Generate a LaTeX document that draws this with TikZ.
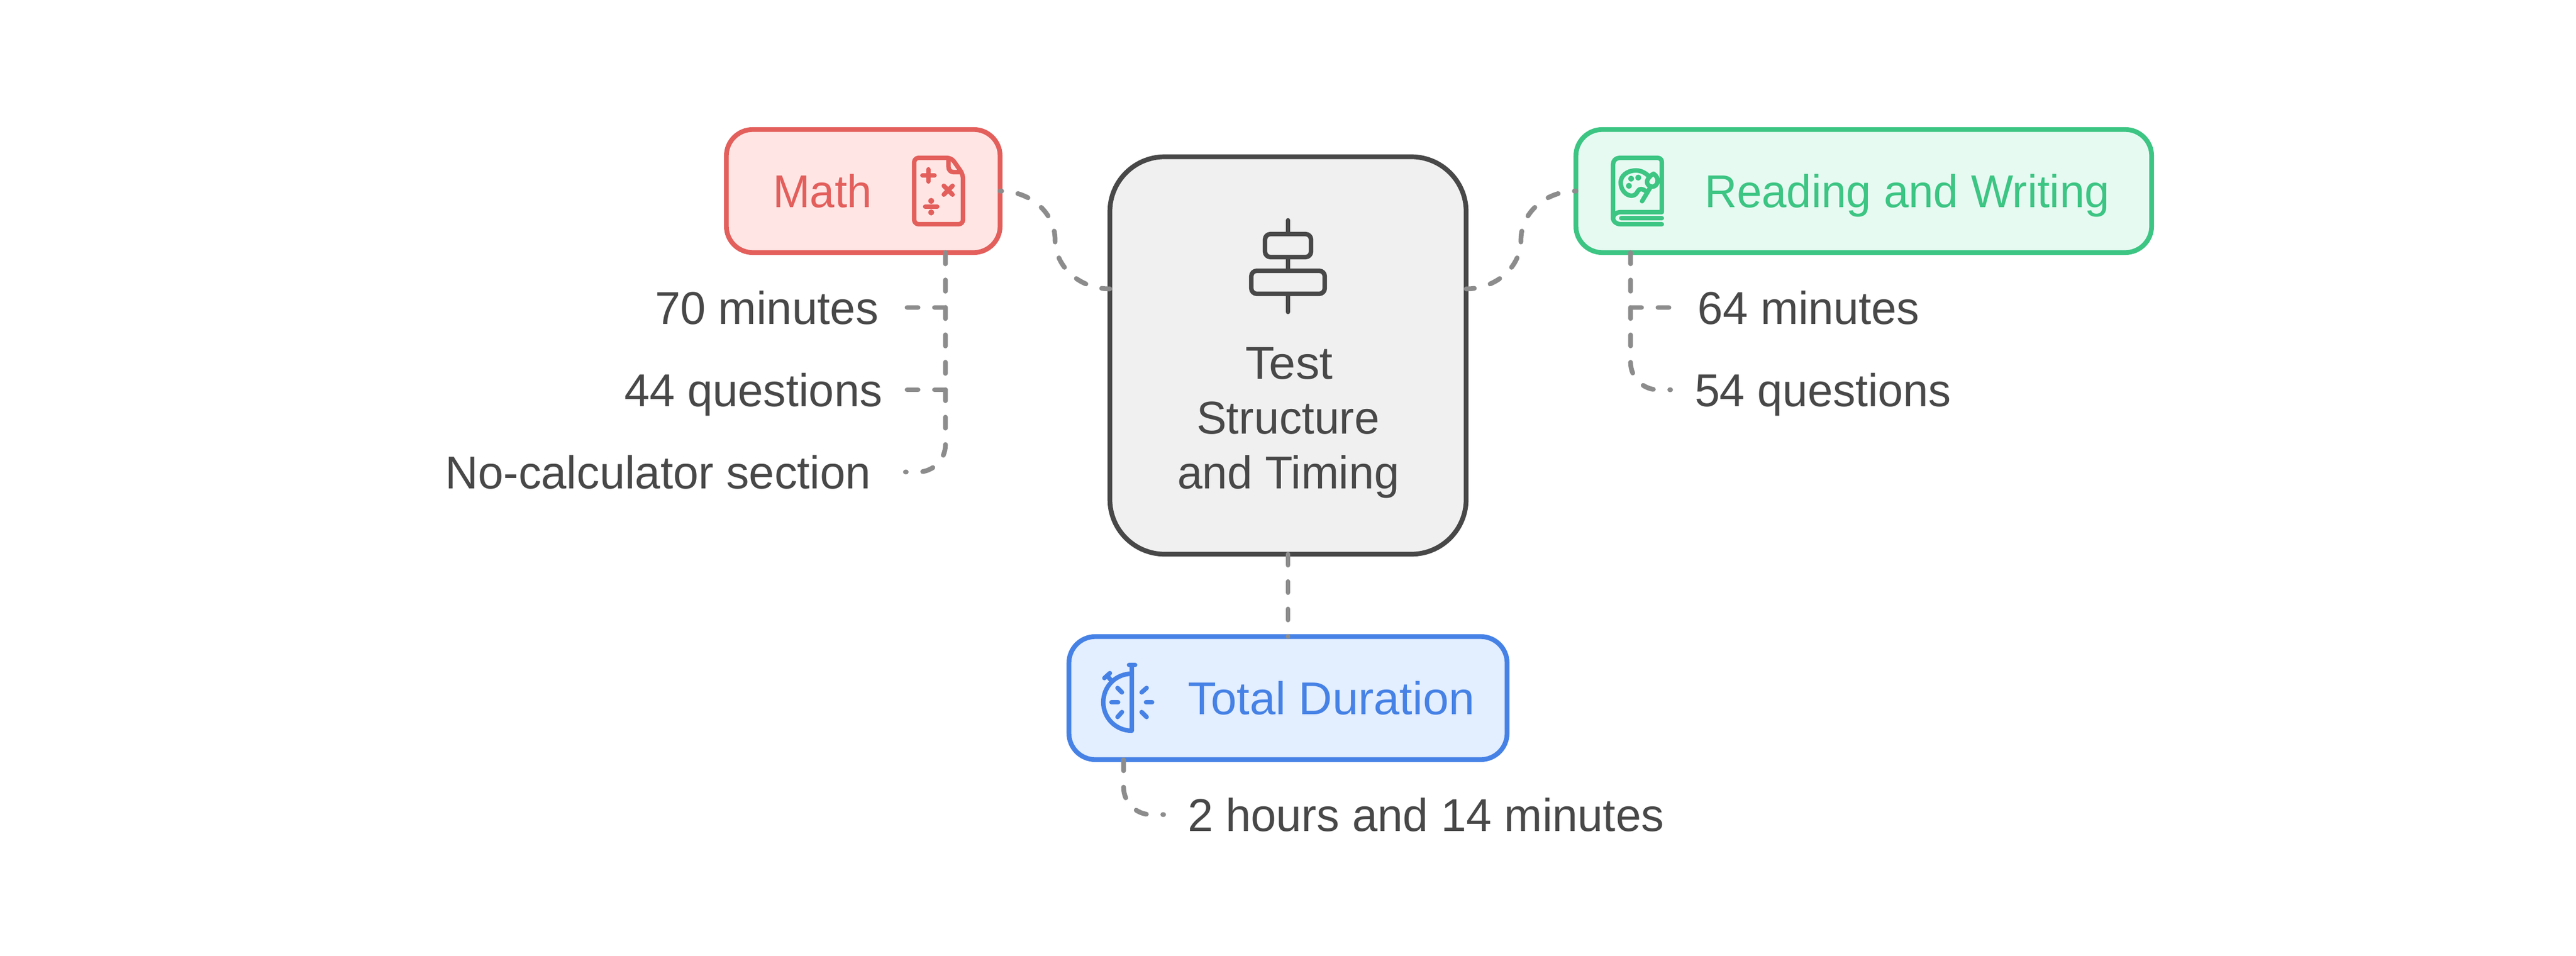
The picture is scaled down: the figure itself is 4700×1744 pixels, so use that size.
\documentclass[tikz,border=0pt]{standalone}
\usepackage{graphicx}
\usepackage{fontspec}
\setmainfont{Liberation Sans}
\definecolor{ink}{HTML}{484848}
\definecolor{conn}{HTML}{8C8C8C}
\definecolor{redS}{HTML}{E35F5C}
\definecolor{redF}{HTML}{FFE6E5}
\definecolor{greenS}{HTML}{3CC583}
\definecolor{greenF}{HTML}{E7FAF2}
\definecolor{blueS}{HTML}{4682E6}
\definecolor{blueF}{HTML}{E3EEFE}
\definecolor{greyF}{HTML}{F0F0F0}
\newcommand\fitw[2]{\resizebox{#1pt}{\height}{#2}}
\tikzset{
  box/.style={rectangle,rounded corners=24pt,line width=4.35pt,outer sep=0pt,inner sep=0pt,minimum height=112.2pt},
  midbox/.style={rectangle,rounded corners=50pt,line width=4.35pt,outer sep=0pt,inner sep=0pt,draw=ink,fill=greyF},
  lbl/.style={anchor=base west,inner sep=0pt,outer sep=0pt,font=\fontsize{42pt}{50pt}\selectfont},
  link/.style={draw=conn,line width=4.35pt,line cap=round,dash pattern=on 10pt off 15pt},
  glyph/.style={line width=4.1pt,line cap=round,line join=round},
}
\begin{document}
\begin{tikzpicture}[x=0.5pt,y=-0.5pt]
\useasboundingbox (0,0) rectangle (4700,1744);
\fill[white] (0,0) rectangle (4700,1744);
% boxes
\node[midbox,minimum width=325pt,minimum height=362.5pt] (centre) at (2350,648.5) {};
\node[box,draw=redS,fill=redF,minimum width=249.7pt] (math) at (1575,348.5) {};
\node[box,draw=greenS,fill=greenF,minimum width=525.2pt] (rw) at (3400.5,348.5) {};
\node[box,draw=blueS,fill=blueF,minimum width=399.7pt] (dur) at (2350,1273.5) {};
% labels
\node[lbl,text=redS] (tMath) at (1410,378) {\fitw{90.5}{Math}};
\node[lbl,text=greenS] (tRW) at (3110,378) {\fitw{369.5}{Reading and Writing}};
\node[lbl,text=blueS] (tDur) at (2167,1303) {\fitw{262}{Total Duration}};
\node[lbl,text=ink] (tC1) at (2272,691) {\fitw{80}{Test}};
\node[lbl,text=ink] (tC2) at (2183,791) {\fitw{167}{Structure}};
\node[lbl,text=ink] (tC3) at (2148,891) {\fitw{202.5}{and Timing}};
\node[lbl,text=ink] (t70) at (1195,591) {\fitw{204}{70 minutes}};
\node[lbl,text=ink] (t44) at (1139,741) {\fitw{235.5}{44 questions}};
\node[lbl,text=ink] (tNo) at (812,891) {\fitw{388.5}{No-calculator section}};
\node[lbl,text=ink] (t64) at (3097,591) {\fitw{202.5}{64 minutes}};
\node[lbl,text=ink] (t54) at (3092,741) {\fitw{234}{54 questions}};
\node[lbl,text=ink] (t2h) at (2167,1516) {\fitw{434.5}{2 hours and 14 minutes}};
% connector ends
\coordinate (cL) at (2025,527);
\coordinate (cR) at (2675,527);
\coordinate (mathB) at (1725,461);
\coordinate (rwB) at (2975,461);
\coordinate (durB) at (2050,1386);
\coordinate (e70) at (1655,561);
\coordinate (e44) at (1655,711);
\coordinate (eNo) at (1652,861);
\coordinate (e64) at (3045,561);
\coordinate (e54) at (3048,711);
\coordinate (e2h) at (2123,1486);
% connectors
\draw[link,dash phase=2.5pt] (cL) .. controls (1970,527) and (1925,487) .. (1925,437.5) .. controls (1925,388) and (1880,348.5) .. (math.east);
\draw[link,dash phase=2.5pt] (cR) .. controls (2730,527) and (2775,487) .. (2775,437.5) .. controls (2775,388) and (2820,348.5) .. (rw.west);
\draw[link] (centre.south) -- (dur.north);
\draw[link] (mathB) |- (e70);
\draw[link] (mathB) |- (e44);
\draw[link,rounded corners=25pt] (mathB) |- (eNo);
\draw[link] (rwB) |- (e64);
\draw[link,rounded corners=25pt] (rwB) |- (e54);
\draw[link,rounded corners=25pt] (durB) |- (e2h);
% centre icon
\begin{scope}[glyph,draw=ink]
\draw[rounded corners=5pt] (2308,427) rectangle (2392,469);
\draw[rounded corners=5pt] (2283,494) rectangle (2417,536);
\draw (2350,402) -- (2350,427);
\draw (2350,469) -- (2350,494);
\draw (2350,536) -- (2350,569);
\end{scope}
% math icon
\begin{scope}[glyph,draw=redS]
\draw[rounded corners=4pt] (1668,288) -- (1736,288) -- (1757,318) -- (1757,409) -- (1668,409) -- cycle;
\draw (1730.5,290) -- (1730.5,304) .. controls (1730.5,310) and (1734,314) .. (1740,314) -- (1754,314);
\draw (1683,320) -- (1705,320);
\draw (1694,309) -- (1694,331);
\draw (1722,339) -- (1738,355);
\draw (1738,339) -- (1722,355);
\draw (1688,377) -- (1710,377);
\fill[redS] (1699,366.5) circle[radius=5.5];
\fill[redS] (1699,387.5) circle[radius=5.5];
\end{scope}
% book icon
\begin{scope}[glyph,draw=greenS]
\draw (2943,400) -- (2943,300) .. controls (2943,293) and (2948,288) .. (2955,288) -- (3024,288) .. controls (3029,288) and (3032,291) .. (3032,296) -- (3032,387) -- (2957,387) .. controls (2949,387) and (2943,392) .. (2943,398) .. controls (2943,404) and (2949,409) .. (2957,409) -- (3032,409);
\draw (2958,398) -- (3032,398);
\draw (3008,321) .. controls (3000,314) and (2993,311) .. (2985,311) .. controls (2968,311) and (2957,321) .. (2957,333) .. controls (2957,347) and (2967,357) .. (2977,357) .. controls (2983,357) and (2986,353) .. (2988,349) .. controls (2991,343) and (2997,344) .. (3003,349);
\draw (2996,367) -- (3011,342);
\draw (3017,317) .. controls (3022,320) and (3026,327) .. (3024,333) .. controls (3022,339) and (3017,342) .. (3011,340) .. controls (3005,338) and (3003,331) .. (3007,326) .. controls (3010,322) and (3013,319) .. (3017,317) -- cycle;
\fill[greenS] (2976,326) circle[radius=5.5];
\fill[greenS] (2989,324) circle[radius=5.5];
\fill[greenS] (2972,339) circle[radius=5.5];
\end{scope}
% stopwatch icon
\begin{scope}[glyph,draw=blueS]
\draw (2060,1213) -- (2071,1213);
\draw (2065,1213) -- (2065,1333) .. controls (2036,1333) and (2013,1310) .. (2013,1281) .. controls (2013,1252) and (2036,1229) .. (2065,1229);
\draw (2015,1237) -- (2025,1228);
\draw (2022,1235) -- (2028,1242);
\draw (2039,1255) -- (2047,1263);
\draw (2028,1281) -- (2040,1281);
\draw (2039,1308) -- (2047,1299);
\draw (2083,1263) -- (2092,1255);
\draw (2091,1281) -- (2102,1281);
\draw (2083,1299) -- (2092,1308);
\end{scope}
\end{tikzpicture}
\end{document}
